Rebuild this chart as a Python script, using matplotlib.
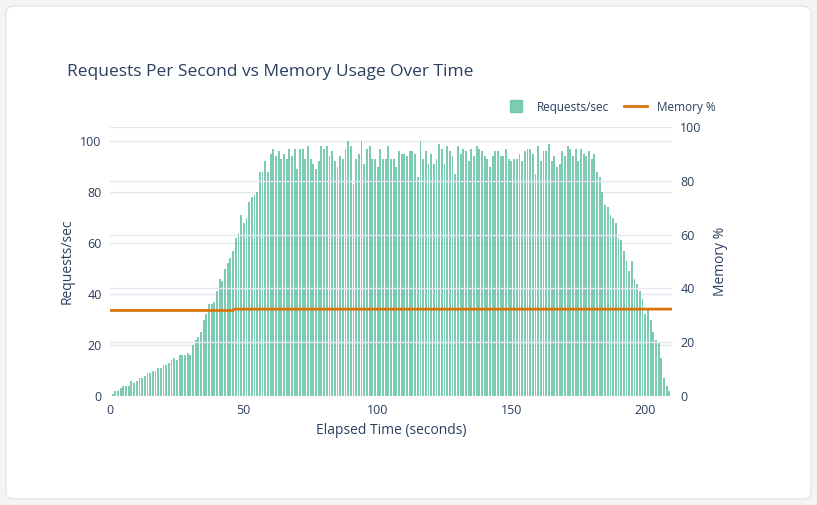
import matplotlib.pyplot as plt
from matplotlib.patches import FancyBboxPatch, Patch
from matplotlib.lines import Line2D

plt.rcParams["font.family"] = ["Open Sans", "DejaVu Sans"]

# requests/sec per elapsed second
ramp = [0.7, 2, 2, 3, 4, 4, 4, 6, 5, 6, 7, 7, 8, 9, 9, 10, 10, 11, 11, 12,
        12, 13, 14, 15, 14, 16, 16, 16, 17, 16, 20, 22, 23, 25, 30, 32, 36, 36, 37, 41,
        46, 45, 50, 52, 54, 57, 62, 64, 71, 68, 70, 76, 78, 79, 80, 88, 88, 92, 88, 95,
        97, 94, 96, 93, 95, 93, 97]
plateau_a = [94, 97, 89, 97, 97, 93, 98, 93, 91, 89, 92, 98, 97, 98, 94, 96, 92, 90, 94, 93,
             97, 100, 98, 83, 93, 95, 100, 91, 97, 98, 93, 93, 90, 97, 93, 93, 98, 93, 93, 90,
             96, 95, 95, 94, 96, 96, 95, 86, 100, 93, 96, 91, 95, 91, 93, 99, 97, 91, 98, 96,
             94, 87, 98, 95, 97, 96, 92, 97, 94]
plateau_b = [98, 97, 96, 94, 93, 90, 94, 96, 96, 94, 94, 97, 93, 92, 93, 93, 95, 92, 96, 97,
             97, 95, 87, 98, 92, 96, 96, 99, 92, 94, 90, 91, 96, 94, 98, 97, 94, 97, 92, 97,
             95, 94, 96, 93, 95]
decline = [88, 86, 80, 75, 74, 71, 70, 68, 62, 61, 57, 53, 49, 53, 46, 44, 41, 38, 32, 34,
           30, 25, 22, 21, 15, 7, 4, 2]
requests = ramp + plateau_a + plateau_b + decline
seconds = list(range(1, len(requests) + 1))

# memory % (flat, small step near t=46)
mem_t = [0, 46, 46.5, 210]
mem_pct = [31.8, 31.8, 32.3, 32.3]

fig = plt.figure(figsize=(8.17, 5.05), dpi=100)
fig.patch.set_facecolor("#f4f4f6")
fig.patches.append(FancyBboxPatch((6 / 817, 6 / 505), 805 / 817, 493 / 505,
                                  boxstyle="round,pad=0,rounding_size=0.012",
                                  transform=fig.transFigure, facecolor="white",
                                  edgecolor="#e6e6e9", linewidth=1, zorder=-1))

ax = fig.add_axes([110 / 817, 1 - 396 / 505, 562 / 817, 269 / 505])
ax.set_facecolor("none")
ax.bar(seconds, requests, width=0.7, color="#66c2a5", alpha=0.85, zorder=2)
ax.set_xlim(0, 210)
ax.set_ylim(0, 105.5)
ax.set_yticks([0, 20, 40, 60, 80, 100])
ax.set_xticks([0, 50, 100, 150, 200])
ax.grid(axis="y", color="#e5e8f2", linewidth=1, zorder=0)
ax.set_ylabel("Requests/sec", fontsize=10, color="#2a3f5f")
ax.set_xlabel("Elapsed Time (seconds)", fontsize=10, color="#2a3f5f")

ax2 = ax.twinx()
ax2.plot(mem_t, mem_pct, color="#d9730d", linewidth=2, zorder=3)
ax2.set_ylim(0, 100)
ax2.set_yticks([0, 20, 40, 60, 80, 100])
ax2.grid(axis="y", color="#e5e8f2", linewidth=1)
ax2.set_ylabel("Memory %", fontsize=10, color="#2a3f5f", labelpad=8)

for a in (ax, ax2):
    for s in a.spines.values():
        s.set_visible(False)
    a.tick_params(length=0, labelsize=9, labelcolor="#2a3f5f", pad=6)

fig.text(67 / 817, 1 - 72 / 505, "Requests Per Second vs Memory Usage Over Time",
         fontsize=12.5, color="#2a3f5f", va="center")

handles = [Line2D([], [], marker="s", linestyle="none", markersize=8,
                  color="#66c2a5", alpha=0.85),
           Line2D([], [], color="#d9730d", linewidth=2)]
fig.legend(handles, ["Requests/sec", "Memory %"], ncol=2, frameon=False, fontsize=8.5,
           loc="center right", bbox_to_anchor=(726 / 817, 1 - 107 / 505),
           handlelength=2.0, columnspacing=1.2, labelcolor="#2a3f5f")

fig.savefig("out.png", dpi=100)
